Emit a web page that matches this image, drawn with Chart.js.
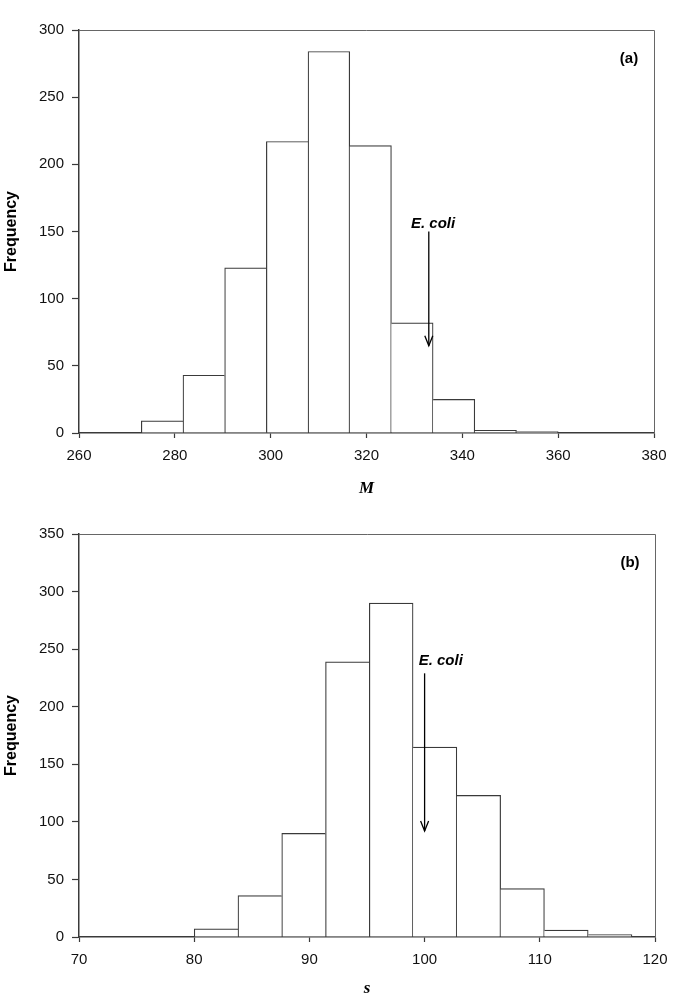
<!DOCTYPE html>
<html>
<head>
<meta charset="utf-8">
<script src="https://cdn.jsdelivr.net/npm/chart.js@4.4.1/dist/chart.umd.min.js"></script>
<style>
  body { margin: 0; background: #fff; }
  canvas { display: block; }
</style>
</head>
<body>
<canvas id="chart-m" width="685" height="500"></canvas>
<canvas id="chart-s" width="685" height="500"></canvas>
<script>
// Panel (a): histogram of M (bin width 8.7, from 273 to 360)
const mBinCenters = [277.35, 286.05, 294.75, 303.45, 312.15, 320.85, 329.55, 338.25, 346.95, 355.65];
const mCounts = [9, 43, 123, 217, 284, 214, 82, 25, 2, 1];
const mTicksX = [260, 280, 300, 320, 340, 360, 380];
const mTicksY = [0, 50, 100, 150, 200, 250, 300];
const mEcoli = { x: 333, labelX: 333.9, labelY: 156, from: 150, to: 65 };

// Panel (b): histogram of s (bin width 3.8, from 80 to 118)
const sBinCenters = [81.9, 85.7, 89.5, 93.3, 97.1, 100.9, 104.7, 108.5, 112.3, 116.1];
const sCounts = [7, 36, 90, 239, 290, 165, 123, 42, 6, 2];
const sTicksX = [70, 80, 90, 100, 110, 120];
const sTicksY = [0, 50, 100, 150, 200, 250, 300, 350];
const sEcoli = { x: 100, labelX: 101.4, labelY: 240, from: 229, to: 92 };

const SANS = '"Liberation Sans", Arial, Helvetica, sans-serif';
const SERIF = '"Liberation Serif", "Times New Roman", serif';
const LINE = '#3a3a3a';

// frame (top/right), panel letter and the E. coli arrow
const histDecor = {
    id: 'histDecor',
    afterDraw(chart, args, opts) {
        const { ctx, chartArea: a, scales: { x, y } } = chart;
        ctx.save();
        ctx.strokeStyle = '#666';
        ctx.lineWidth = 1;
        ctx.beginPath();
        ctx.moveTo(a.left, a.top + 0.5);
        ctx.lineTo(a.right + 0.5, a.top + 0.5);
        ctx.lineTo(a.right + 0.5, a.bottom);
        ctx.stroke();

        ctx.fillStyle = '#000';
        ctx.textAlign = 'center';
        ctx.textBaseline = 'middle';
        ctx.font = 'bold 15px ' + SANS;
        ctx.fillText(opts.panel, a.right - 25, a.top + opts.panelDy);

        const arrow = opts.arrow;
        const ax = x.getPixelForValue(arrow.x);
        const y0 = y.getPixelForValue(arrow.from);
        const y1 = y.getPixelForValue(arrow.to);
        ctx.strokeStyle = '#000';
        ctx.lineWidth = 1.3;
        ctx.beginPath();
        ctx.moveTo(ax, y0);
        ctx.lineTo(ax, y1);
        ctx.stroke();
        ctx.beginPath();
        ctx.moveTo(ax - 4, y1 - 10);
        ctx.lineTo(ax, y1);
        ctx.lineTo(ax + 4, y1 - 10);
        ctx.stroke();

        ctx.font = 'italic bold 15px ' + SANS;
        ctx.fillText('E. coli', x.getPixelForValue(arrow.labelX), y.getPixelForValue(arrow.labelY));
        ctx.restore();
    }
};

// shared edges are drawn once, by the taller of the two bars
function edgeWidths(counts) {
    return (c) => {
        const i = c.dataIndex;
        const v = counts[i];
        const prev = counts[i - 1];
        const next = counts[i + 1];
        return {
            top: 1.2,
            bottom: 0,
            left: (prev === undefined || v >= prev) ? 1.2 : 0,
            right: (next === undefined || v > next) ? 1.2 : 0
        };
    };
}

function makeHistogram(id, cfg) {
    const ctx = document.getElementById(id).getContext('2d');
    return new Chart(ctx, {
        type: 'bar',
        data: {
            datasets: [{
                data: cfg.centers.map((c, i) => ({ x: c, y: cfg.counts[i] })),
                backgroundColor: '#fff',
                borderColor: LINE,
                borderWidth: edgeWidths(cfg.counts),
                borderSkipped: false,
                barPercentage: 1,
                categoryPercentage: 1
            }]
        },
        options: {
            responsive: false,
            animation: false,
            layout: { padding: { left: 0, right: cfg.padRight, top: cfg.padTop, bottom: 0 } },
            plugins: {
                legend: { display: false },
                tooltip: { enabled: false },
                histDecor: { panel: cfg.panel, panelDy: 29, arrow: cfg.arrow }
            },
            scales: {
                x: {
                    type: 'linear',
                    offset: false,
                    min: cfg.ticksX[0],
                    max: cfg.ticksX[cfg.ticksX.length - 1],
                    afterBuildTicks: (s) => { s.ticks = cfg.ticksX.map(v => ({ value: v })); },
                    afterFit: (s) => { s.height = cfg.xHeight; },
                    grid: { offset: false, drawOnChartArea: false, tickLength: 5, color: LINE, tickWidth: 1.2 },
                    border: { color: LINE, width: 1.5 },
                    ticks: { color: '#111', padding: 9, maxRotation: 0, font: { family: SANS, size: 15 } },
                    title: {
                        display: true,
                        text: cfg.xTitle,
                        color: '#000',
                        padding: { top: 0, bottom: 1 },
                        font: { family: SERIF, size: 17, style: 'italic', weight: 'bold' }
                    }
                },
                y: {
                    min: cfg.ticksY[0],
                    max: cfg.ticksY[cfg.ticksY.length - 1],
                    afterBuildTicks: (s) => { s.ticks = cfg.ticksY.map(v => ({ value: v })); },
                    afterFit: (s) => { s.width = 79; },
                    grid: { drawOnChartArea: false, tickLength: 7, color: LINE, tickWidth: 1.2 },
                    border: { color: LINE, width: 1.5 },
                    ticks: { color: '#111', padding: 8, font: { family: SANS, size: 15 } },
                    title: {
                        display: true,
                        text: 'Frequency',
                        color: '#000',
                        padding: { top: 1.5, bottom: 0 },
                        font: { family: SANS, size: 16, weight: 'bold' }
                    }
                }
            }
        },
        plugins: [histDecor]
    });
}

makeHistogram('chart-m', {
    centers: mBinCenters, counts: mCounts, ticksX: mTicksX, ticksY: mTicksY,
    arrow: mEcoli, panel: '(a)', xTitle: 'M',
    padTop: 30, padRight: 31, xHeight: 67
});

makeHistogram('chart-s', {
    centers: sBinCenters, counts: sCounts, ticksX: sTicksX, ticksY: sTicksY,
    arrow: sEcoli, panel: '(b)', xTitle: 's',
    padTop: 34, padRight: 30, xHeight: 63
});
</script>
</body>
</html>
